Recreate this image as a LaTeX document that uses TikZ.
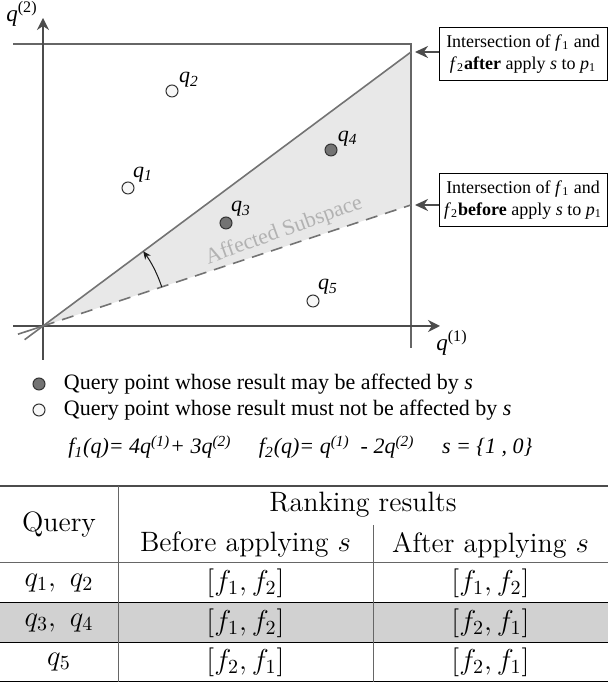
\documentclass[tikz,border=0pt]{standalone}
\usepackage{fontspec}
\newfontfamily\tms{Liberation Serif}
\usetikzlibrary{calc,positioning,arrows.meta}

\begin{document}
\begin{tikzpicture}[
    x=0.5pt, y=0.5pt,
    axis/.style={
        -{Stealth[length=6pt, width=6pt]},
        draw=black!70,
        line width=1.1pt
    },
    frame line/.style={
        draw=black!60,
        line width=0.9pt
    },
    after line/.style={
        draw=black!55,
        line width=0.8pt
    },
    before line/.style={
        draw=black!55,
        line width=0.8pt,
        dash pattern=on 6pt off 4pt
    },
    turn arrow/.style={
        -{Stealth[length=4pt, width=3.5pt]},
        draw=black!90,
        line width=0.5pt
    },
    affected point/.style={
        circle,
        draw=black!80,
        fill=black!55,
        line width=0.5pt,
        minimum size=6pt,
        inner sep=0pt
    },
    safe point/.style={
        circle,
        draw=black!80,
        fill=black!3,
        line width=0.5pt,
        minimum size=6pt,
        inner sep=0pt
    },
    point label/.style={
        font=\tms\fontsize{11}{11}\selectfont\itshape,
        inner sep=0pt,
        label distance=0.5pt
    },
    note box/.style={
        draw=black,
        line width=0.5pt,
        font=\tms\fontsize{9}{11}\selectfont,
        align=center,
        minimum width=84pt,
        minimum height=26.5pt,
        inner sep=1pt
    },
    pointer/.style={
        -{Stealth[length=6.5pt, width=6pt]},
        draw=black!70,
        line width=1.1pt,
        shorten >=2pt
    },
    legend text/.style={
        font=\tms\fontsize{11}{12}\selectfont,
        anchor=west,
        inner sep=0pt
    },
    cell/.style={
        font=\fontsize{14}{16}\selectfont,
        inner sep=0pt
    },
    table rule/.style={
        draw=black,
        line width=0.5pt
    }
]
\useasboundingbox (0,0) rectangle (608,683);

%% --- Subspace ---
\coordinate (O) at (43,357);
\coordinate (A) at (411,631);
\coordinate (B) at (411,478);
\fill[black!9] (O) -- (A) -- (B) -- cycle;
\node[rotate=20, text=black!30, font=\tms\fontsize{11}{11}\selectfont] (sub) at (284,452) {Affected Subspace};

%% --- Axes and frame ---
\draw[frame line] (13,639) -- (411,639) -- (411,335);
\draw[axis] (43,323) -- (43,665);
\draw[axis] (13,357) -- (440,357);
\node[font=\tms\fontsize{11.5}{11.5}\selectfont] (y axis) at (22,669) {\textit{q}\textsuperscript{(2)}};
\node[font=\tms\fontsize{11.5}{11.5}\selectfont] (x axis) at (452,340) {\textit{q}\textsuperscript{(1)}};

%% --- Intersections ---
\draw[after line] ($(O)!-0.05!(A)$) -- (A);
\draw[before line] (O) -- (B);
\draw[after line] ($(O)!-0.068!(B)$) -- (O);
\draw[turn arrow] ([shift={(18.2:125)}]O) arc[start angle=18.2, end angle=36.7, radius=125];

%% --- Query points ---
\node[safe point, label={[point label]50:q\textsubscript{1}}] (q1) at (128,495) {};
\node[safe point, label={[point label]25:q\textsubscript{2}}] (q2) at (172,592) {};
\node[affected point, label={[point label]52:q\textsubscript{3}}] (q3) at (226,460) {};
\node[affected point, label={[point label]30:q\textsubscript{4}}] (q4) at (331,533) {};
\node[safe point, label={[point label]52:q\textsubscript{5}}] (q5) at (313,382) {};

%% --- Notes ---
\node[note box] (after note) at (523,628.5) {Intersection of \textit{f}\textsubscript{1} and\\\textit{f}\textsubscript{2}\textbf{after} apply \textit{s} to \textit{p}\textsubscript{1}};
\node[note box] (before note) at (523,482.5) {Intersection of \textit{f}\textsubscript{1} and\\\textit{f}\textsubscript{2}\textbf{before} apply \textit{s} to \textit{p}\textsubscript{1}};
\draw[pointer] (after note.west |- A) -- (A);
\draw[pointer] (before note.west |- B) -- (B);

%% --- Legend ---
\node[affected point] (legend a) at (39,299) {};
\node[legend text, right=9pt of legend a] (legend a text) {Query point whose result may be affected by \textit{s}};
\node[safe point] (legend b) at (39,273) {};
\node[legend text, right=9pt of legend b] (legend b text) {Query point whose result must not be affected by \textit{s}};
\node[legend text, font=\tms\fontsize{11}{12}\selectfont\itshape] (formula) at (68,236) {f\textsubscript{1}(q)= 4q\textsuperscript{(1)}+ 3q\textsuperscript{(2)}\quad\ f\textsubscript{2}(q)= q\textsuperscript{(1)}\ \ - 2q\textsuperscript{(2)}\quad\ s = \{1 , 0\}};

%% --- Table ---
\fill[black!18] (0,40) rectangle (608,80);
\draw[table rule, draw=black!70, line width=0.7pt] (0,197) -- (608,197);
\draw[table rule, draw=black!60] (0,120) -- (608,120);
\draw[table rule] (0,80) -- (608,80);
\draw[table rule] (0,40) -- (608,40);
\draw[table rule] (0,1) -- (608,1);
\draw[table rule, draw=black!60] (118,197) -- (118,1);
\draw[table rule, draw=black!60] (373,158) -- (373,1);

\node[cell] (query)   at (59,158)    {Query};
\node[cell] (ranking) at (363,178)   {Ranking results};
\node[cell] (before)  at (245.5,138) {Before applying $s$};
\node[cell] (after)   at (490.5,138) {After applying $s$};

\node[cell] (row1 q) at (59,100)    {$q_1,\ q_2$};
\node[cell] (row1 b) at (245.5,100) {$[f_1, f_2]$};
\node[cell] (row1 a) at (490.5,100) {$[f_1, f_2]$};

\node[cell] (row2 q) at (59,60)     {$q_3,\ q_4$};
\node[cell] (row2 b) at (245.5,60)  {$[f_1, f_2]$};
\node[cell] (row2 a) at (490.5,60)  {$[f_2, f_1]$};

\node[cell] (row3 q) at (59,21)     {$q_5$};
\node[cell] (row3 b) at (245.5,21)  {$[f_2, f_1]$};
\node[cell] (row3 a) at (490.5,21)  {$[f_2, f_1]$};

\end{tikzpicture}
\end{document}
